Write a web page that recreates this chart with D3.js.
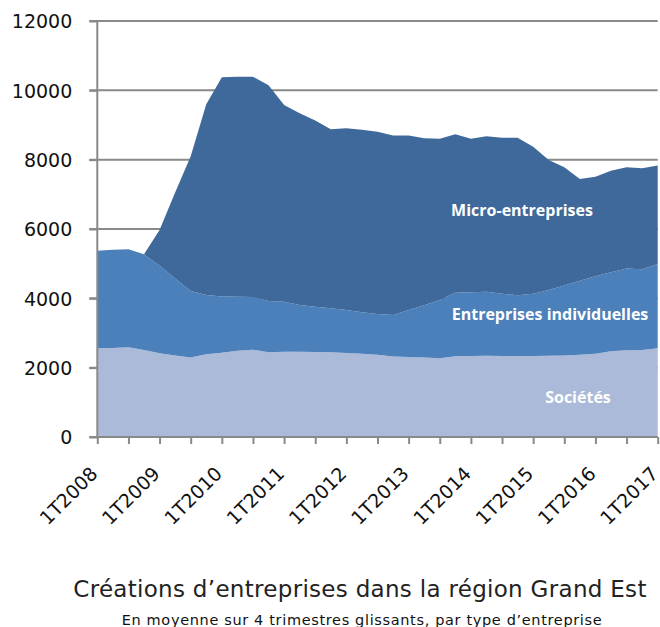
<!DOCTYPE html>
<html>
<head>
<meta charset="utf-8">
<script src="https://cdn.jsdelivr.net/npm/d3@7"></script>
<style>
  body { margin: 0; background: #fff; }
  svg { display: block; }
  .tick-label { font-family: "DejaVu Sans", sans-serif; font-size: 19px; fill: #111; }
  .area-label { font-family: "Open Sans", sans-serif; font-weight: 700; font-size: 16px; fill: #fff; }
</style>
</head>
<body>
<div class="container"></div>
<script>
// quarters, 4-quarter rolling average
const quarters = [
    '1T2008', '2T2008', '3T2008', '4T2008',
    '1T2009', '2T2009', '3T2009', '4T2009',
    '1T2010', '2T2010', '3T2010', '4T2010',
    '1T2011', '2T2011', '3T2011', '4T2011',
    '1T2012', '2T2012', '3T2012', '4T2012',
    '1T2013', '2T2013', '3T2013', '4T2013',
    '1T2014', '2T2014', '3T2014', '4T2014',
    '1T2015', '2T2015', '3T2015', '4T2015',
    '1T2016', '2T2016', '3T2016', '4T2016',
    '1T2017'
];

const societes = [2560, 2570, 2590, 2510, 2415, 2350, 2290, 2390, 2430, 2490, 2520, 2445, 2460, 2460, 2455, 2445, 2420, 2400, 2370, 2320, 2305, 2290, 2270, 2330, 2340, 2345, 2340, 2335, 2340, 2345, 2350, 2370, 2400, 2470, 2500, 2510, 2560];
const individuelles = [2815, 2830, 2825, 2760, 2525, 2220, 1920, 1705, 1620, 1555, 1520, 1480, 1445, 1345, 1305, 1270, 1240, 1200, 1180, 1200, 1355, 1510, 1680, 1830, 1835, 1845, 1790, 1755, 1790, 1895, 2020, 2140, 2240, 2280, 2360, 2330, 2430];
const micro = [0, 0, 0, 0, 1030, 2480, 3890, 5505, 6325, 6345, 6350, 6225, 5675, 5535, 5370, 5165, 5245, 5260, 5255, 5180, 5040, 4815, 4655, 4570, 4430, 4485, 4505, 4545, 4245, 3750, 3410, 2930, 2870, 2930, 2920, 2910, 2845];

const seriesNames = ['Sociétés', 'Entreprises individuelles', 'Micro-entreprises'];
const seriesColors = ['#aabad8', '#4c80bb', '#3f699b'];
const yTicks = [0, 2000, 4000, 6000, 8000, 10000, 12000];

const title = 'Créations d\u2019entreprises dans la région Grand Est';
const subtitle = 'En moyenne sur 4 trimestres glissants, par type d\u2019entreprise';

const width = 660;
const height = 627;
const plotLeft = 97.3, plotRight = 657.7, plotTop = 21, plotBottom = 437;

const svg = d3.select('.container').append('svg').attr('width', width).attr('height', height);

const x = d3.scalePoint().domain(quarters).range([plotLeft, plotRight]);
const y = d3.scaleLinear().domain([0, 12000]).range([plotBottom, plotTop]);

const table = quarters.map((q, i) => ({
    q: q,
    'Sociétés': societes[i],
    'Entreprises individuelles': individuelles[i],
    'Micro-entreprises': micro[i]
}));

const stacked = d3.stack().keys(seriesNames)(table);

// grid lines (behind the areas)
svg.append('g').selectAll('line').data(yTicks.slice(1)).enter().append('line')
    .attr('x1', plotLeft - 8).attr('x2', plotRight)
    .attr('y1', d => y(d)).attr('y2', d => y(d))
    .attr('stroke', '#898989').attr('stroke-width', 2);

const area = d3.area()
    .x(d => x(d.data.q))
    .y0(d => y(d[0]))
    .y1(d => y(d[1]));

svg.append('g').selectAll('path').data(stacked).enter().append('path')
    .attr('d', area)
    .attr('fill', (d, i) => seriesColors[i]);

// y axis
const yAxis = svg.append('g')
    .attr('transform', `translate(${plotLeft},0)`)
    .call(d3.axisLeft(y).tickValues(yTicks).tickSize(8).tickPadding(17).tickFormat(d3.format('d')));

yAxis.select('.domain').attr('stroke', '#898989').attr('stroke-width', 2).attr('d', `M0,${plotBottom}V${plotTop}`);
yAxis.selectAll('.tick line').attr('stroke', '#898989').attr('stroke-width', 2);
yAxis.selectAll('.tick text').attr('class', 'tick-label').attr('dy', '0.36em');

// x axis
const xAxis = svg.append('g')
    .attr('transform', `translate(0,${plotBottom})`)
    .call(d3.axisBottom(x)
        .tickValues(quarters.filter((q, i) => i % 2 === 0))
        .tickSize(7)
        .tickFormat(q => q.startsWith('1T') ? q : ''));

xAxis.select('.domain').attr('stroke', '#898989').attr('stroke-width', 2).attr('d', `M${plotLeft - 8},0H${plotRight}`);
xAxis.selectAll('.tick line').attr('stroke', '#898989').attr('stroke-width', 2);
xAxis.selectAll('.tick text')
    .attr('class', 'tick-label')
    .attr('text-anchor', 'end')
    .attr('y', 0).attr('dy', 0)
    .attr('transform', 'translate(1,38) rotate(-45)');

// series labels
const labelPos = [[578, 403], [550, 320], [522, 216]];
svg.append('g').selectAll('text').data(seriesNames).enter().append('text')
    .attr('class', 'area-label')
    .attr('text-anchor', 'middle')
    .attr('x', (d, i) => labelPos[i][0])
    .attr('y', (d, i) => labelPos[i][1])
    .text(d => d);

// titles
svg.append('text')
    .attr('x', 360).attr('y', 597)
    .attr('text-anchor', 'middle')
    .style('font-family', '"DejaVu Sans", sans-serif')
    .style('font-size', '23px')
    .style('letter-spacing', '0.3px')
    .style('fill', '#222')
    .text(title);

svg.append('text')
    .attr('x', 362).attr('y', 625)
    .attr('text-anchor', 'middle')
    .style('font-family', '"DejaVu Sans", sans-serif')
    .style('font-size', '14.5px')
    .style('letter-spacing', '0.65px')
    .style('fill', '#111')
    .text(subtitle);
</script>
</body>
</html>
